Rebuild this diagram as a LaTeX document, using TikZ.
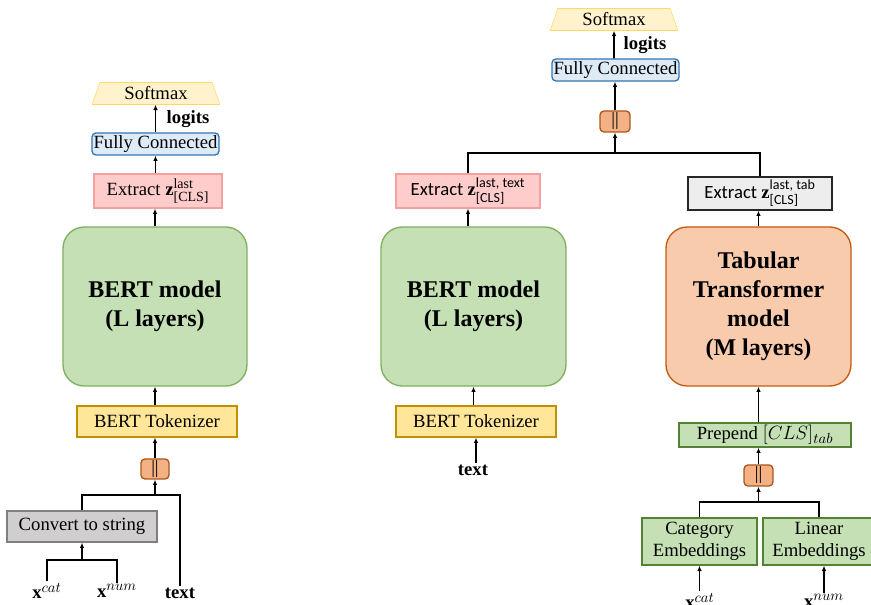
\documentclass[tikz,border=0pt]{standalone}
\usepackage{fontspec}
\usepackage{amsmath}
\usetikzlibrary{shapes.geometric,arrows.meta}
\setmainfont{Liberation Serif}
\newfontfamily\calibri{Carlito}
\DeclareMathSizes{14}{14}{10.5}{8}

\definecolor{softfill}{HTML}{FFF2CC}
\definecolor{softline}{HTML}{FFD966}
\definecolor{fcfill}{HTML}{DEEBF7}
\definecolor{fcline}{HTML}{2E75B6}
\definecolor{extfill}{HTML}{FFCCCC}
\definecolor{extline}{HTML}{F4A0A0}
\definecolor{bertfill}{HTML}{C5E0B4}
\definecolor{bertline}{HTML}{7FAF5F}
\definecolor{tokfill}{HTML}{FFE699}
\definecolor{tokline}{HTML}{BF9000}
\definecolor{catfill}{HTML}{F4B183}
\definecolor{catline}{HTML}{A9561E}
\definecolor{convfill}{HTML}{D0CECE}
\definecolor{convline}{HTML}{7F7F7F}
\definecolor{tabfill}{HTML}{F8CBAD}
\definecolor{tabline}{HTML}{C55A11}
\definecolor{embline}{HTML}{548235}

\newcommand\pxu{0.75pt}

\tikzset{
  box/.style={draw, line width=1pt, inner sep=0pt, align=center,
    font=\fontsize{14}{16}\selectfont},
  bigbox/.style={box, rounded corners=16pt, minimum width=185*\pxu, minimum height=159*\pxu,
    font=\bfseries\fontsize{18}{21.75}\selectfont},
  softbox/.style={trapezium, trapezium left angle=72, trapezium right angle=72,
    trapezium stretches=true, draw=softline, fill=softfill, inner sep=0pt,
    minimum width=128*\pxu, minimum height=22*\pxu, font=\fontsize{14}{16}\selectfont},
  catbox/.style={box, fill=catfill, draw=catline, rounded corners=3pt,
    minimum width=29*\pxu, minimum height=21*\pxu},
  lbl/.style={inner sep=1pt, font=\bfseries\fontsize{14}{16}\selectfont},
  line/.style={line width=1.3pt},
  arr/.style={line, -{Latex[length=4pt,width=3.5pt]}}
}

\begin{document}
\begin{tikzpicture}[x=0.75pt,y=-0.75pt]
\useasboundingbox (0,0) rectangle (871,605);

% plain BERT on serialized features
\node[softbox] (soft1) at (156,93.5) {Softmax};
\node[lbl] (logits1) at (188,119) {logits};
\node[box, fill=fcfill, draw=fcline, rounded corners=3pt, minimum width=127*\pxu, minimum height=22*\pxu] (fc1) at (155.5,144) {Fully Connected};
\node[box, fill=extfill, draw=extline, minimum width=128*\pxu, minimum height=34*\pxu] (ext1) at (158,191) {Extract $\mathbf{z}^{\text{last}}_{\text{[CLS]}}$};
\node[bigbox, fill=bertfill, draw=bertline, minimum width=184*\pxu] (bert1) at (155,306.5) {BERT model\\(L layers)};
\node[box, fill=tokfill, draw=tokline, minimum width=160*\pxu, minimum height=31*\pxu] (tok1) at (157,421.5) {BERT Tokenizer};
\node[catbox, minimum width=28*\pxu, minimum height=20*\pxu] (cat1) at (155,469) {||};
\node[box, fill=convfill, draw=convline, minimum width=150*\pxu, minimum height=31*\pxu] (conv) at (82,526.5) {Convert to string};
\node[lbl] (xcat1) at (47,591) {$\mathbf{x}^{cat}$};
\node[lbl] (xnum1) at (117,591) {$\mathbf{x}^{num}$};
\node[lbl] (text1) at (180,593) {text};
\coordinate (j1) at (155,495);
\coordinate (j2) at (82,560);

\draw[line] (xcat1.north) |- (j2) -| (xnum1.north);
\draw[arr] (j2) -- (conv.south);
\draw[line] (conv.north) |- (j1) -| (text1.north);
\draw[arr] (j1) -- (cat1.south);
\draw[arr] (cat1.north) -- (cat1.north |- tok1.south);
\draw[arr] (tok1.north -| bert1) -- (bert1.south);
\draw[arr] (bert1.north) -- (bert1.north |- ext1.south);
\draw[arr] (ext1.north -| fc1) -- (fc1.south);
\draw[arr] (fc1.north) -- (fc1.north |- soft1.south);

% text branch + tabular branch
\node[softbox] (soft2) at (614,19.5) {Softmax};
\node[lbl] (logits2) at (645,45) {logits};
\node[box, fill=fcfill, draw=fcline, rounded corners=3pt, minimum width=127*\pxu, minimum height=22*\pxu] (fc2) at (615.5,70) {Fully Connected};
\node[catbox, minimum width=30*\pxu] (cat2) at (615,121.5) {||};
\node[box, fill=extfill, draw=extline, minimum width=144*\pxu, minimum height=34*\pxu] (ext2) at (468,191) {\calibri Extract $\mathbf{z}^{\text{last, text}}_{\text{[CLS]}}$};
\node[bigbox, fill=bertfill, draw=bertline] (bert2) at (473.5,306.5) {BERT model\\(L layers)};
\node[box, fill=tokfill, draw=tokline, minimum width=160*\pxu, minimum height=31*\pxu] (tok2) at (476,421.5) {BERT Tokenizer};
\node[lbl] (text2) at (473,470) {text};

\node[box, fill=black!7, draw=black!85, minimum width=144*\pxu, minimum height=33*\pxu] (ext3) at (760,193.5) {\calibri Extract $\mathbf{z}^{\text{last, tab}}_{\text{[CLS]}}$};
\node[bigbox, fill=tabfill, draw=tabline] (tab) at (758.5,306.5) {Tabular\\Transformer\\model\\(M layers)};
\node[box, fill=bertfill, draw=embline, minimum width=172*\pxu, minimum height=24*\pxu] (prep) at (765,435) {Prepend $[CLS]_{tab}$};
\node[catbox] (cat3) at (758.5,475.5) {||};
\node[box, fill=bertfill, draw=embline, minimum width=115*\pxu, minimum height=47*\pxu] (catemb) at (699.5,541.5) {Category\\Embeddings};
\node[box, fill=bertfill, draw=embline, minimum width=112*\pxu, minimum height=47*\pxu] (linemb) at (819,541.5) {Linear\\Embeddings};
\node[lbl] (xcat3) at (700,601) {$\mathbf{x}^{cat}$};
\node[lbl] (xnum3) at (824,601) {$\mathbf{x}^{num}$};
\coordinate (j3) at (615,153);
\coordinate (j4) at (758.5,502);

\draw[arr] (text2.north -| tok2) -- (tok2.south);
\draw[arr] (tok2.north -| bert2) -- (bert2.south);
\draw[arr] (bert2.north -| ext2) -- (ext2.south);
\draw[line] (ext2.north) |- (j3) -| (ext3.north);
\draw[arr] (j3) -- (cat2.south);
\draw[arr] (cat2.north) -- (cat2.north |- fc2.south);
\draw[arr] (fc2.north -| soft2) -- (soft2.south);

\draw[arr] (xcat3.north -| catemb) -- (catemb.south);
\draw[arr] (xnum3.north) -- (xnum3.north |- linemb.south);
\draw[line] (catemb.north) |- (j4) -| (linemb.north);
\draw[arr] (j4) -- (cat3.south);
\draw[arr] (cat3.north) -- (cat3.north |- prep.south);
\draw[arr] (prep.north -| tab) -- (tab.south);
\draw[arr] (tab.north) -- (tab.north |- ext3.south);
\end{tikzpicture}
\end{document}
